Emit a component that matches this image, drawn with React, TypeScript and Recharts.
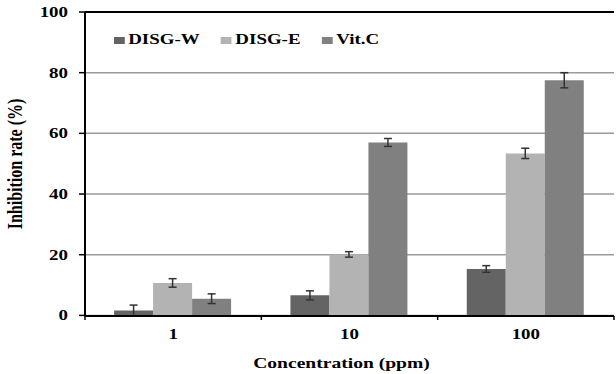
import React from "react";
import {
  BarChart,
  Bar,
  XAxis,
  YAxis,
  CartesianGrid,
  ErrorBar,
  Legend,
  ReferenceLine,
} from "recharts";

// concentrations (ppm)
const categories = ["1", "10", "100"];

const disgW = [1.6, 6.6, 15.3];
const disgWErr = [1.8, 1.5, 1.1];
const disgE = [10.7, 20.1, 53.4];
const disgEErr = [1.4, 0.9, 1.7];
const vitC = [5.5, 57.0, 77.5];
const vitCErr = [1.6, 1.3, 2.5];

const yTicks = [0, 20, 40, 60, 80, 100];

const series = [
  { key: "w", name: "DISG-W", color: "#646464" },
  { key: "e", name: "DISG-E", color: "#b3b3b3" },
  { key: "c", name: "Vit.C", color: "#808080" },
];

const data = categories.map((c, i) => ({
  conc: c,
  w: disgW[i],
  wErr: disgWErr[i],
  e: disgE[i],
  eErr: disgEErr[i],
  c: vitC[i],
  cErr: vitCErr[i],
}));

const FONT = '"Liberation Serif", "Times New Roman", serif';
const STRETCH = 1.35; // the original picture is stretched sideways

const YTick = ({ x, y, payload }: any) => (
  <g transform={`translate(${x},${y})`}>
    <text
      transform={`scale(${STRETCH},1)`}
      textAnchor="end"
      dy="0.35em"
      fontFamily={FONT}
      fontWeight="bold"
      fontSize={14}
      fill="#000"
    >
      {payload.value}
    </text>
  </g>
);

const XTick = ({ x, y, payload, index, visibleTicksCount }: any) => {
  const half = payload.offset || 88;
  const last = index === visibleTicksCount - 1;
  return (
    <g>
      <line x1={x - half} x2={x - half} y1={y - 12} y2={y - 8} stroke="#000" strokeWidth={1.5} />
      {last && (
        <line x1={x + half} x2={x + half} y1={y - 12} y2={y - 8} stroke="#000" strokeWidth={1.5} />
      )}
      <g transform={`translate(${x},${y + 11})`}>
        <text
          transform={`scale(${STRETCH},1)`}
          textAnchor="middle"
          fontFamily={FONT}
          fontWeight="bold"
          fontSize={14}
          fill="#000"
        >
          {payload.value}
        </text>
      </g>
    </g>
  );
};

const XLabel = ({ viewBox }: any) => {
  const cx = viewBox.x + viewBox.width / 2 - 8;
  return (
    <g transform={`translate(${cx},${viewBox.y + 52})`}>
      <text
        transform={`scale(${STRETCH},1)`}
        textAnchor="middle"
        fontFamily={FONT}
        fontWeight="bold"
        fontSize={14.5}
        fill="#000"
      >
        Concentration (ppm)
      </text>
    </g>
  );
};

const YLabel = ({ viewBox }: any) => {
  const cy = viewBox.y + viewBox.height / 2;
  return (
    <g transform={`translate(22,${cy}) rotate(-90) scale(1,1.25)`}>
      <text textAnchor="middle" fontFamily={FONT} fontWeight="bold" fontSize={16} fill="#000">
        Inhibition rate (%)
      </text>
    </g>
  );
};

const renderLegend = () => (
  <div
    style={{
      display: "flex",
      alignItems: "center",
      transform: `scaleX(${STRETCH})`,
      transformOrigin: "left center",
      fontFamily: FONT,
      fontWeight: "bold",
      fontSize: 14,
      lineHeight: "16px",
      whiteSpace: "nowrap",
    }}
  >
    {series.map((s) => (
      <span key={s.key} style={{ display: "inline-flex", alignItems: "center", marginRight: 16 }}>
        <span style={{ width: 7.5, height: 7, background: s.color, marginRight: 3 }} />
        {s.name}
      </span>
    ))}
  </div>
);

export default function App() {
  return (
    <div style={{ position: "absolute", left: 0, top: 0, background: "#fff" }}>
      <BarChart
        width={616}
        height={374}
        data={data}
        margin={{ top: 12, right: 2, bottom: 0, left: 0 }}
        barCategoryGap="16.5%"
        barGap={0}
      >
        <CartesianGrid vertical={false} stroke="#9a9a9a" strokeWidth={1.5} />
        <XAxis
          dataKey="conc"
          height={58}
          axisLine={{ stroke: "#000", strokeWidth: 2 }}
          tickLine={false}
          tickSize={0}
          tickMargin={12}
          tick={<XTick />}
          label={<XLabel />}
        />
        <YAxis
          width={85}
          domain={[0, 100]}
          ticks={yTicks}
          interval={0}
          axisLine={{ stroke: "#000", strokeWidth: 2 }}
          tickLine={{ stroke: "#000", strokeWidth: 1.5 }}
          tickSize={6}
          tickMargin={11}
          tick={<YTick />}
          label={<YLabel />}
        />
        <ReferenceLine y={100} stroke="#000" strokeWidth={2} />
        <Legend
          layout="vertical"
          align="center"
          verticalAlign="middle"
          content={renderLegend}
          wrapperStyle={{ top: 32, left: 114, width: "auto" }}
        />
        <Bar dataKey="w" name="DISG-W" fill={series[0].color} isAnimationActive={false}>
          <ErrorBar dataKey="wErr" width={4} stroke="#333" strokeWidth={1.5} direction="y" />
        </Bar>
        <Bar dataKey="e" name="DISG-E" fill={series[1].color} isAnimationActive={false}>
          <ErrorBar dataKey="eErr" width={4} stroke="#333" strokeWidth={1.5} direction="y" />
        </Bar>
        <Bar dataKey="c" name="Vit.C" fill={series[2].color} isAnimationActive={false}>
          <ErrorBar dataKey="cErr" width={4} stroke="#333" strokeWidth={1.5} direction="y" />
        </Bar>
      </BarChart>
    </div>
  );
}
